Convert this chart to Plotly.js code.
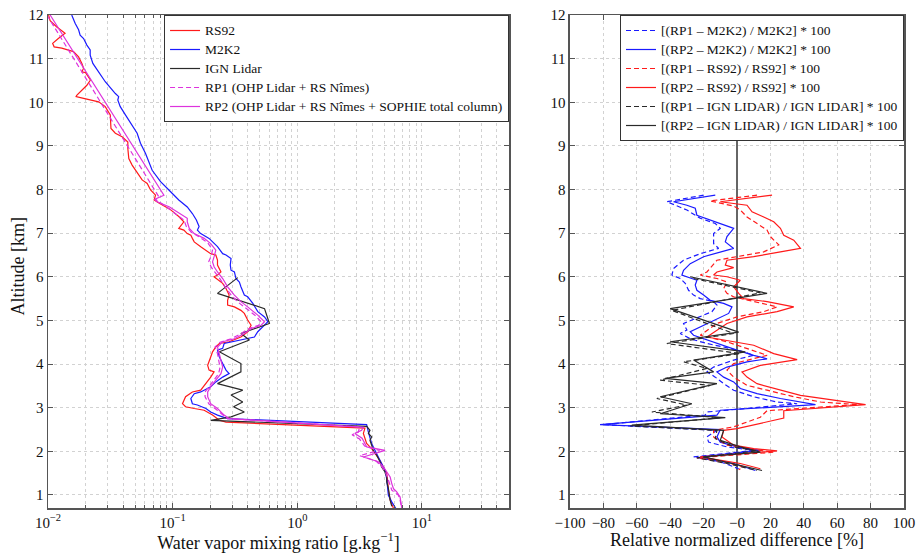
<!DOCTYPE html>
<html><head><meta charset="utf-8">
<script src="https://cdn.plot.ly/plotly-3.0.1.min.js"></script>
<style>html,body{margin:0;padding:0;background:#fff}#plot{width:916px;height:556px}</style>
</head><body><div id="plot"></div>
<script>
// ---------- Left panel: water vapor mixing ratio profiles [g/kg] ----------
const rs92Alt = [12.00,11.87,11.73,11.62,11.58,11.46,11.35,11.27,11.24,11.16,11.04,10.89,10.78,10.70,10.68,10.51,10.39,10.16,10.13,10.09,10.01,9.90,9.71,9.40,9.29,9.21,9.09,8.94,8.71,8.56,8.37,8.22,8.14,7.99,7.87,7.76,7.68,7.55,7.38,7.26,7.11,7.07,6.99,6.95,6.88,6.80,6.69,6.61,6.53,6.50,6.38,6.27,6.11,6.04,6.00,5.85,5.73,5.58,5.46,5.35,5.31,5.23,5.16,5.01,4.89,4.74,4.62,4.51,4.47,4.39,4.28,4.16,4.05,3.97,3.86,3.82,3.70,3.55,3.40,3.36,3.25,3.09,3.02,2.98,2.94,2.83,2.71,2.67,2.53,2.41,2.29,2.18,2.06,1.95,1.79,1.64,1.49,1.30,1.11,0.88,0.69];
const rs92Val = [0.0101,0.0104,0.0117,0.0133,0.0137,0.0121,0.0109,0.0112,0.0129,0.0160,0.0176,0.0187,0.0193,0.0187,0.0200,0.0219,0.0205,0.0170,0.0168,0.0193,0.0255,0.0288,0.0316,0.0320,0.0347,0.0393,0.0437,0.0437,0.0445,0.0473,0.0525,0.0569,0.0625,0.0665,0.0729,0.0710,0.0788,0.0950,0.112,0.123,0.112,0.123,0.131,0.140,0.144,0.149,0.168,0.185,0.202,0.222,0.229,0.229,0.244,0.229,0.215,0.252,0.268,0.284,0.276,0.276,0.313,0.353,0.376,0.400,0.426,0.400,0.353,0.284,0.237,0.222,0.209,0.202,0.196,0.191,0.196,0.215,0.202,0.185,0.168,0.144,0.127,0.120,0.127,0.149,0.179,0.209,0.237,0.268,3.49,3.39,3.49,3.60,3.95,4.21,4.61,4.91,5.22,5.32,5.38,5.56,5.92];

const m2k2Alt = [12.00,11.81,11.66,11.54,11.46,11.31,11.20,11.08,10.89,10.70,10.47,10.20,10.13,10.05,9.90,9.71,9.48,9.29,9.06,8.83,8.44,8.18,7.99,7.76,7.60,7.45,7.30,7.15,7.07,6.99,6.88,6.69,6.53,6.50,6.42,6.27,6.15,6.11,5.96,5.88,5.77,5.58,5.54,5.39,5.20,5.08,4.97,4.89,4.74,4.62,4.55,4.51,4.47,4.36,4.32,4.16,4.01,3.86,3.78,3.70,3.59,3.48,3.36,3.32,3.21,3.09,3.06,2.98,2.90,2.83,2.75,2.61,2.44,2.29,2.18,2.02,1.87,1.72,1.56,1.37,1.18,0.99,0.84,0.69];
const m2k2Val = [0.0155,0.0165,0.0176,0.0181,0.0193,0.0205,0.0218,0.0218,0.0229,0.0255,0.0288,0.0347,0.0369,0.0363,0.0380,0.0418,0.0473,0.0519,0.0552,0.0605,0.0685,0.0800,0.0933,0.112,0.131,0.144,0.155,0.163,0.158,0.168,0.196,0.229,0.252,0.268,0.294,0.290,0.294,0.313,0.322,0.343,0.353,0.376,0.400,0.440,0.482,0.546,0.581,0.546,0.482,0.453,0.353,0.294,0.259,0.252,0.229,0.237,0.252,0.268,0.284,0.252,0.222,0.202,0.168,0.149,0.140,0.144,0.158,0.185,0.202,0.229,0.276,3.60,3.72,3.83,3.95,4.21,4.47,4.75,5.06,5.22,5.32,5.38,5.73,6.17];

const ignAlt = [5.98,5.62,5.27,4.93,4.70,4.55,4.28,4.01,3.82,3.55,3.40,3.29,3.13,3.02,2.90,2.79,2.71,2.57,2.48,2.41,2.33,2.25,2.14,2.02,1.91,1.76,1.64,1.53,1.41,1.30,1.15,0.99,0.88,0.74];
const ignVal = [0.333,0.229,0.546,0.598,0.353,0.413,0.237,0.353,0.353,0.229,0.365,0.294,0.365,0.308,0.376,0.294,0.202,3.61,3.83,3.72,3.95,3.83,3.95,4.07,4.34,4.61,4.75,5.06,5.22,5.22,5.38,5.46,5.56,5.73];

const rp1Alt = [12.00,7.83,7.76,7.70,7.58,7.45,7.30,7.15,7.02,6.90,6.78,6.62,6.48,6.35,6.22,6.10,5.95,5.77,5.58,5.43,5.30,5.12,4.97,4.89,4.81,4.70,4.58,4.50,4.39,4.24,4.09,3.93,3.78,3.63,3.48,3.36,3.25,3.09,2.98,2.83,2.75,2.56,2.44,2.38,2.28,2.12,2.02,1.90,1.78,1.64,1.50,1.35,1.20,1.11,0.99,0.88,0.69];
const rp1Val = [0.0098,0.0776,0.0724,0.0794,0.0912,0.105,0.123,0.129,0.141,0.166,0.191,0.209,0.204,0.195,0.204,0.219,0.240,0.263,0.295,0.331,0.380,0.457,0.513,0.490,0.407,0.355,0.295,0.240,0.219,0.229,0.234,0.240,0.234,0.214,0.195,0.182,0.182,0.195,0.219,0.251,0.275,3.16,3.09,2.75,3.16,3.47,4.57,3.16,4.27,4.79,5.13,5.37,5.62,5.73,6.49,6.68,6.90];

const rp2Alt = [12.00,7.87,7.78,7.72,7.60,7.45,7.34,7.26,7.11,6.99,6.88,6.76,6.61,6.46,6.34,6.23,6.11,5.96,5.77,5.58,5.43,5.31,5.12,4.97,4.89,4.81,4.70,4.58,4.51,4.39,4.24,4.09,3.93,3.78,3.63,3.48,3.36,3.25,3.09,2.98,2.83,2.75,2.55,2.48,2.41,2.30,2.10,2.02,1.87,1.76,1.64,1.53,1.41,1.26,1.14,1.07,0.95,0.69];
const rp2Val = [0.0104,0.0851,0.0720,0.0752,0.0945,0.114,0.131,0.131,0.136,0.149,0.179,0.202,0.222,0.215,0.209,0.215,0.229,0.252,0.276,0.313,0.353,0.400,0.482,0.546,0.513,0.426,0.376,0.313,0.252,0.229,0.237,0.244,0.252,0.244,0.222,0.202,0.191,0.191,0.202,0.229,0.259,0.284,3.39,3.28,2.90,3.31,3.61,5.06,3.39,4.47,4.91,5.22,5.56,5.73,5.92,6.28,6.68,6.90];

// ---------- Right panel: relative normalized differences [%] ----------
const d1m2k2Alt = [7.87,7.72,7.53,7.34,7.22,7.11,6.99,6.76,6.65,6.53,6.38,6.19,6.04,5.96,5.85,5.69,5.58,5.50,5.43,5.35,5.20,5.04,4.93,4.78,4.70,4.58,4.47,4.39,4.28,4.20,4.09,3.93,3.82,3.70,3.55,3.40,3.25,3.13,3.09,2.90,2.83,2.61,2.48,2.33,2.21,2.10,2.02,1.87,1.76,1.60];
const d1m2k2Val = [-20,-42,-30,-22,-13,-10,-14,-14,-11,-22,-32,-38,-39,-34,-31,-29,-26,-22,-14,-12,-15,-25,-32,-30,-34,-28,-18,-8,4,10,-2,-14,-18,-13,-8,-2,10,24,36,-18,-19,-80,-12,-18,-17,-6,10,-26,-10,1];

const d2m2k2Alt = [7.87,7.72,7.64,7.57,7.41,7.30,7.18,7.11,6.92,6.80,6.65,6.57,6.46,6.30,6.15,6.04,6.00,5.92,5.81,5.69,5.58,5.46,5.39,5.31,5.16,5.00,4.85,4.74,4.66,4.58,4.47,4.32,4.20,4.12,4.05,3.93,3.82,3.70,3.59,3.44,3.32,3.21,3.07,2.94,2.83,2.61,2.50,2.33,2.21,2.10,2.02,1.87,1.72,1.56];
const d2m2k2Val = [-13,-38,-30,-25,-24,-16,-8,-2,-6,-7,-2,-10,-20,-28,-32,-33,-30,-24,-25,-24,-20,-16,-8,-3,-5,-14,-22,-28,-26,-20,-12,0,10,18,6,-6,-12,-8,-2,2,12,26,47,-10,-12,-82,-10,-12,-10,0,14,-22,-2,11];

const d1rs92Alt = [7.87,7.74,7.62,7.53,7.37,7.22,7.07,6.92,6.73,6.57,6.46,6.38,6.11,6.04,5.96,5.88,5.73,5.62,5.54,5.43,5.31,5.20,5.08,4.93,4.78,4.66,4.51,4.35,4.20,4.01,3.86,3.70,3.51,3.40,3.25,3.13,3.07,2.93,2.78,2.56,2.48,2.33,2.14,2.06,1.98,1.85,1.76,1.64,1.58];
const d1rs92Val = [12,-16,-2,2,6,12,18,20,25,16,0,-12,-18,-22,-12,-6,-8,-6,-2,10,24,16,0,-12,-18,-22,-6,6,18,-2,-6,-2,6,18,34,50,72,18,14,-2,-14,-14,-6,6,22,-24,-8,4,1];

const d2rs92Alt = [7.87,7.72,7.64,7.49,7.37,7.26,7.11,6.95,6.84,6.65,6.57,6.46,6.38,6.27,6.21,6.11,6.04,6.00,5.92,5.77,5.62,5.50,5.43,5.31,5.20,5.08,4.93,4.78,4.62,4.43,4.24,4.10,3.97,3.82,3.70,3.55,3.44,3.28,3.07,2.93,2.76,2.52,2.48,2.33,2.14,2.06,2.01,1.87,1.72,1.60];
const d2rs92Val = [21,-10,6,9,16,22,26,28,34,38,26,10,-6,-7,-2,-12,-14,-6,2,-2,1,4,18,34,24,6,-6,-12,-18,10,22,36,14,3,6,12,22,38,77,28,28,0,-8,-9,-2,10,24,-22,2,14];

const d1ignAlt = [5.96,5.63,5.23,4.70,4.47,4.24,4.05,3.90,3.63,3.51,3.21,3.06,2.90,2.77,2.58,2.48,2.29,2.10,2.01,1.85,1.72,1.56];
const d1ignVal = [-26,14,-39,-2,-42,2,-32,-18,-46,-16,-48,-30,-51,-10,-64,-12,-13,-2,12,-24,-6,12];

const d2ignAlt = [6.00,5.62,5.27,4.73,4.51,4.28,4.09,3.82,3.67,3.55,3.25,3.09,2.86,2.77,2.60,2.48,2.25,2.10,1.98,1.87,1.56];
const d2ignVal = [-28,18,-40,1,-40,5,-26,-14,-43,-12,-46,-27,-46,-7,-63,-8,-10,2,14,-20,15];

// ---------- Names and axis tick labels ----------
const leftNames = ['RS92', 'M2K2', 'IGN Lidar', 'RP1 (OHP Lidar + RS Nîmes)', 'RP2 (OHP Lidar + RS Nîmes + SOPHIE total column)'];
const rightNames = ['[(RP1 – M2K2) / M2K2] * 100', '[(RP2 – M2K2) / M2K2] * 100', '[(RP1 – RS92) / RS92] * 100',
                    '[(RP2 – RS92) / RS92] * 100', '[(RP1 – IGN LIDAR) / IGN LIDAR] * 100', '[(RP2 – IGN LIDAR) / IGN LIDAR] * 100'];
const logTickVals = [0.01, 0.1, 1, 10];
const logTickText = ['10<sup>−2</sup>','10<sup>−1</sup>','10<sup>0</sup>','10<sup>1</sup>'];
const logMinorVals = [0.02,0.03,0.04,0.05,0.06,0.07,0.08,0.09,0.2,0.3,0.4,0.5,0.6,0.7,0.8,0.9,2,3,4,5,6,7,8,9,20,30,40];
const diffTickVals = [-100,-80,-60,-40,-20,0,20,40,60,80,100];
const diffTickText = ['−100','−80','−60','−40','−20','−0','20','40','60','80','100'];

const RED = '#ff1a1a', BLUE = '#1a1aff', BLACK = '#2a2a2a', MAG = '#dd33dd';
const DASH = '5px,3px';
const LW = 1.2;

function big(s) { return '<span style="font-size:13.5px">' + s + '</span>'; }
function tr(x, y, name, color, dash, xa, ya, leg) {
  return {x: x, y: y, name: big(name), type: 'scatter', mode: 'lines',
    line: {color: color, width: LW, dash: dash || 'solid'},
    xaxis: xa, yaxis: ya, legend: leg, hoverinfo: 'skip'};
}

const data = [
  tr(rs92Val, rs92Alt, leftNames[0], RED, null, 'x', 'y', 'legend'),
  tr(m2k2Val, m2k2Alt, leftNames[1], BLUE, null, 'x', 'y', 'legend'),
  tr(ignVal, ignAlt, leftNames[2], BLACK, null, 'x', 'y', 'legend'),
  tr(rp1Val, rp1Alt, leftNames[3], MAG, DASH, 'x', 'y', 'legend'),
  tr(rp2Val, rp2Alt, leftNames[4], MAG, null, 'x', 'y', 'legend'),
  tr(d1m2k2Val, d1m2k2Alt, rightNames[0], BLUE, DASH, 'x2', 'y2', 'legend2'),
  tr(d2m2k2Val, d2m2k2Alt, rightNames[1], BLUE, null, 'x2', 'y2', 'legend2'),
  tr(d1rs92Val, d1rs92Alt, rightNames[2], RED, DASH, 'x2', 'y2', 'legend2'),
  tr(d2rs92Val, d2rs92Alt, rightNames[3], RED, null, 'x2', 'y2', 'legend2'),
  tr(d1ignVal, d1ignAlt, rightNames[4], BLACK, DASH, 'x2', 'y2', 'legend2'),
  tr(d2ignVal, d2ignAlt, rightNames[5], BLACK, null, 'x2', 'y2', 'legend2')
];

const FONT = 'Liberation Serif';
const axisCommon = {
  showline: true, linecolor: '#555', linewidth: 1.5, mirror: 'ticks',
  ticks: 'inside', ticklen: 5, tickcolor: '#555', tickwidth: 1,
  showgrid: true, gridcolor: '#d2d2d2', griddash: 'dot', gridwidth: 1,
  zeroline: false, automargin: false,
  tickfont: {family: FONT, size: 15, color: '#111'}
};

const layout = {
  width: 916, height: 556,
  margin: {l: 48, r: 12, t: 15, b: 48},
  paper_bgcolor: '#fff', plot_bgcolor: '#fff',
  font: {family: FONT, size: 15, color: '#111'},
  xaxis: Object.assign({}, axisCommon, {
    domain: [0, 0.5386], type: 'log', range: [-2, Math.log10(50)],
    tickmode: 'array', tickvals: logTickVals, ticktext: logTickText,
    minor: {tickmode: 'array', tickvals: logMinorVals, ticks: 'inside', ticklen: 3,
            tickcolor: '#555', showgrid: true, gridcolor: '#d2d2d2', griddash: 'dot', gridwidth: 1},
    title: {text: 'Water vapor mixing ratio [g.kg<sup>−1</sup>]', font: {family: FONT, size: 18}, standoff: 2},
    anchor: 'y'
  }),
  yaxis: Object.assign({}, axisCommon, {
    domain: [0, 1], range: [0.7, 12], dtick: 1, tick0: 0,
    anchor: 'x'
  }),
  xaxis2: Object.assign({}, axisCommon, {
    domain: [0.6098, 1], range: [-100, 100],
    tickmode: 'array', tickvals: diffTickVals, ticktext: diffTickText,
    zeroline: true, zerolinecolor: '#666', zerolinewidth: 2,
    title: {text: 'Relative normalized difference [%]', font: {family: FONT, size: 18}, standoff: 2},
    anchor: 'y2'
  }),
  yaxis2: Object.assign({}, axisCommon, {
    domain: [0, 1], range: [0.7, 12], dtick: 1, tick0: 0, anchor: 'x2'
  }),
  annotations: [{
    text: 'Altitude [km]', textangle: -90, showarrow: false,
    xref: 'paper', yref: 'paper', x: -0.035, y: 0.49, xanchor: 'center', yanchor: 'middle',
    font: {family: FONT, size: 18, color: '#111'}
  }],
  legend: {
    x: 0.5386, xanchor: 'right', y: 1, yanchor: 'top',
    bgcolor: '#fff', bordercolor: '#333', borderwidth: 1,
    font: {family: FONT, size: 12, color: '#111'}, itemwidth: 30, tracegroupgap: 0
  },
  legend2: {
    x: 1, xanchor: 'right', y: 1, yanchor: 'top',
    bgcolor: '#fff', bordercolor: '#333', borderwidth: 1,
    font: {family: FONT, size: 12, color: '#111'}, itemwidth: 30, tracegroupgap: 0
  },
  showlegend: true
};

Plotly.newPlot('plot', data, layout, {displayModeBar: false, staticPlot: true});
</script>
</body></html>
